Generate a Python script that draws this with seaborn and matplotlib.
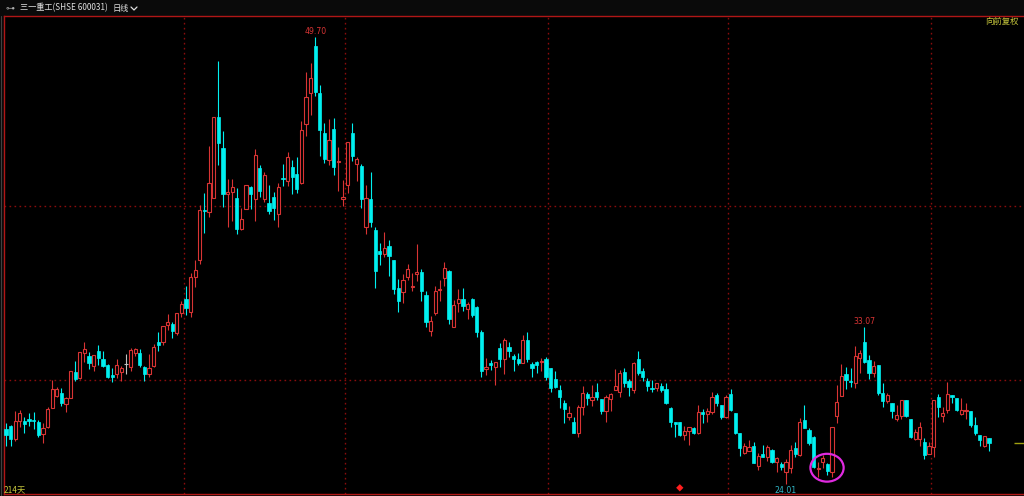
import numpy as np
import pandas as pd
import matplotlib
matplotlib.use("Agg")
import matplotlib.pyplot as plt
from matplotlib.patches import Ellipse
from matplotlib.lines import Line2D
import matplotlib.transforms as mtransforms
import seaborn as sns

# ---- daily OHLC, 214 sessions ----
opens = [
    27.19, 27.36, 26.61, 27.65, 27.65, 27.76, 27.65, 27.59, 26.90, 27.30,
    28.39, 29.08, 29.25, 28.62, 28.97, 30.46, 30.12, 31.55, 31.38, 30.80,
    31.67, 31.21, 30.86, 30.29, 30.35, 30.46, 30.92, 30.75, 31.55, 31.55,
    30.75, 30.35, 30.80, 32.19, 32.19, 33.16, 33.22, 32.70, 33.85, 34.66,
    33.91, 35.92, 36.90, 39.77, 39.66, 40.46, 45.12, 43.33, 40.69, 40.81,
    40.46, 38.68, 39.83, 41.09, 40.40, 42.19, 40.40, 40.17, 40.52, 39.54,
    41.61, 41.44, 42.24, 41.84, 41.32, 44.71, 46.50, 49.20, 46.50, 44.20,
    42.65, 44.43, 42.53, 40.40, 41.21, 44.20, 42.41, 42.30, 38.79, 40.40,
    38.62, 37.41, 37.24, 37.70, 36.90, 35.29, 35.06, 35.92, 35.35, 36.09,
    36.21, 34.89, 32.82, 33.85, 35.17, 35.86, 36.27, 33.05, 34.43, 34.66,
    34.08, 34.66, 34.20, 32.76, 30.66, 30.95, 30.75, 31.84, 31.21, 31.90,
    31.38, 31.21, 30.98, 32.30, 30.92, 31.04, 31.04, 31.21, 30.69, 30.06,
    29.43, 28.68, 27.88, 27.59, 26.96, 28.45, 29.19, 28.85, 29.31, 28.91,
    28.22, 28.91, 29.43, 29.31, 30.46, 29.94, 29.43, 31.21, 30.52, 29.94,
    29.54, 29.54, 29.66, 29.48, 28.39, 27.59, 27.59, 26.84, 27.07, 27.24,
    26.96, 28.16, 28.05, 28.16, 29.14, 28.57, 27.88, 29.19, 28.11, 26.96,
    25.81, 25.92, 26.21, 25.06, 25.75, 25.58, 25.98, 25.29, 25.17, 24.71,
    24.94, 26.09, 25.69, 27.70, 27.13, 26.72, 24.86, 25.29, 25.17, 24.71,
    27.93, 29.08, 30.35, 29.97, 29.83, 31.27, 32.19, 31.15, 30.40, 30.86,
    29.25, 28.80, 28.68, 27.76, 27.93, 28.85, 27.76, 26.61, 26.61, 26.44,
    25.75, 26.15, 29.02, 27.93, 28.28, 29.14, 28.97, 28.05, 28.22, 28.22,
    27.41, 26.84, 26.21, 26.67,
]
highs = [
    27.53, 27.40, 28.22, 28.28, 27.88, 28.11, 28.16, 27.70, 27.53, 28.45,
    30.00, 29.60, 29.54, 29.02, 30.54, 31.09, 31.63, 32.19, 31.61, 31.46,
    32.01, 31.67, 30.92, 30.69, 31.21, 30.80, 31.50, 31.84, 31.84, 31.78,
    30.80, 31.50, 32.07, 32.76, 33.12, 33.79, 33.33, 33.87, 34.54, 35.40,
    36.15, 36.90, 40.06, 40.75, 43.45, 45.14, 48.33, 44.31, 41.55, 41.55,
    41.04, 39.89, 41.23, 41.15, 43.28, 42.36, 41.96, 41.21, 40.81, 41.32,
    42.41, 43.10, 42.65, 42.82, 44.89, 47.70, 48.22, 49.70, 46.95, 44.77,
    45.00, 45.06, 43.39, 41.50, 43.70, 44.77, 42.82, 42.41, 41.21, 41.96,
    38.79, 37.87, 38.51, 38.05, 36.92, 35.81, 36.09, 36.67, 36.15, 37.82,
    36.38, 35.12, 33.68, 35.40, 35.75, 36.78, 36.30, 34.60, 35.23, 35.29,
    34.48, 34.71, 34.25, 32.88, 31.27, 31.15, 31.06, 32.13, 32.42, 32.19,
    31.50, 31.55, 32.59, 32.76, 31.04, 31.09, 31.27, 31.32, 30.71, 30.52,
    29.71, 28.85, 28.51, 27.88, 28.57, 29.66, 29.31, 29.71, 29.83, 28.93,
    29.14, 29.25, 30.63, 30.58, 30.69, 30.06, 31.04, 31.67, 30.69, 30.12,
    30.00, 29.85, 29.83, 29.83, 28.45, 27.61, 27.61, 27.36, 27.32, 27.30,
    28.57, 28.34, 28.39, 29.31, 29.25, 28.59, 29.14, 29.48, 28.13, 26.98,
    26.38, 26.55, 26.44, 25.81, 26.27, 26.27, 26.04, 25.58, 25.29, 25.46,
    26.27, 26.44, 27.82, 28.57, 27.24, 26.78, 25.29, 25.69, 25.23, 27.32,
    29.71, 30.92, 30.75, 30.69, 31.96, 31.73, 33.07, 31.44, 31.09, 30.88,
    29.83, 29.25, 28.70, 28.57, 28.87, 28.87, 27.78, 27.19, 27.59, 26.67,
    26.44, 28.87, 29.19, 28.45, 29.89, 29.16, 28.99, 28.97, 28.68, 28.24,
    27.88, 26.86, 26.80, 26.69,
]
lows = [
    26.21, 26.21, 26.50, 27.30, 26.96, 27.36, 27.19, 26.72, 26.38, 27.27,
    28.37, 29.02, 28.51, 28.16, 28.95, 29.94, 30.06, 31.04, 30.63, 30.52,
    30.86, 30.75, 30.12, 29.89, 30.12, 29.94, 30.35, 30.52, 31.38, 30.75,
    29.94, 30.17, 30.75, 31.67, 32.01, 32.88, 32.42, 32.59, 33.62, 33.74,
    33.62, 35.35, 36.67, 38.45, 39.37, 40.44, 42.36, 39.94, 38.79, 39.14,
    38.39, 38.62, 39.80, 39.83, 39.14, 40.52, 40.23, 39.54, 39.20, 38.79,
    41.15, 41.15, 40.69, 40.75, 41.29, 44.02, 45.23, 46.32, 42.87, 42.47,
    42.36, 41.78, 40.86, 40.00, 40.75, 42.59, 41.44, 39.89, 38.39, 38.79,
    35.29, 36.61, 37.07, 35.98, 34.94, 33.91, 34.43, 35.75, 35.12, 35.69,
    34.54, 33.05, 32.53, 33.74, 34.54, 35.40, 33.22, 33.03, 33.91, 33.97,
    33.51, 33.62, 32.47, 30.17, 30.29, 30.58, 29.71, 30.75, 30.35, 31.32,
    30.52, 30.86, 30.96, 31.04, 30.17, 30.40, 30.52, 30.00, 29.31, 29.54,
    28.39, 27.53, 27.70, 26.93, 26.72, 27.99, 28.57, 28.51, 28.85, 28.05,
    27.59, 28.22, 29.41, 29.02, 29.60, 29.08, 29.25, 30.29, 29.94, 29.37,
    29.31, 29.37, 29.31, 28.62, 27.30, 26.72, 26.78, 26.55, 26.27, 26.90,
    26.90, 27.53, 27.59, 28.05, 28.51, 27.76, 27.82, 28.22, 26.90, 25.63,
    25.75, 25.90, 25.21, 24.83, 25.56, 25.35, 25.23, 24.71, 24.83, 24.01,
    24.66, 25.58, 25.63, 27.22, 26.27, 24.94, 24.43, 24.94, 24.54, 24.43,
    27.53, 29.06, 29.48, 29.60, 29.54, 30.40, 30.98, 30.06, 30.17, 29.14,
    28.45, 28.68, 27.82, 27.65, 27.76, 27.88, 26.67, 26.55, 26.21, 25.46,
    25.73, 25.58, 27.88, 27.59, 28.11, 28.68, 28.22, 27.99, 27.76, 27.30,
    26.84, 26.21, 26.15, 25.92,
]
closes = [
    26.84, 26.61, 27.65, 28.11, 27.47, 27.65, 27.62, 26.84, 27.24, 28.34,
    29.48, 29.48, 28.68, 28.97, 30.52, 30.06, 31.61, 31.78, 30.98, 31.44,
    31.27, 30.80, 30.17, 30.17, 30.86, 30.69, 30.92, 31.73, 31.78, 30.86,
    30.35, 30.69, 31.90, 32.01, 33.10, 33.33, 32.82, 33.85, 34.37, 34.14,
    35.92, 36.32, 39.77, 39.71, 41.32, 45.12, 43.62, 40.69, 40.81, 41.09,
    38.68, 39.25, 41.21, 40.69, 42.93, 40.86, 41.78, 39.71, 39.89, 41.09,
    41.55, 42.82, 41.67, 40.98, 44.37, 46.27, 47.36, 46.55, 44.37, 42.70,
    43.79, 42.24, 42.59, 40.52, 43.68, 42.87, 42.70, 40.40, 40.46, 39.08,
    36.27, 37.24, 37.59, 37.13, 35.23, 34.54, 35.75, 36.38, 35.40, 36.21,
    35.12, 33.33, 33.39, 35.12, 35.23, 36.44, 33.51, 34.31, 34.66, 34.25,
    34.37, 33.74, 32.76, 30.52, 30.72, 30.89, 31.04, 31.21, 32.30, 31.67,
    31.21, 30.98, 32.30, 31.21, 30.69, 30.86, 31.09, 30.17, 29.54, 29.60,
    29.02, 28.34, 28.11, 26.96, 28.45, 29.25, 28.97, 29.02, 29.02, 28.22,
    29.02, 29.19, 29.66, 30.40, 29.83, 29.60, 30.98, 30.40, 30.17, 29.66,
    29.48, 29.83, 29.43, 28.68, 27.59, 27.47, 26.84, 27.07, 27.30, 26.96,
    28.16, 28.05, 28.22, 29.02, 28.68, 27.88, 29.02, 28.28, 26.96, 26.09,
    26.21, 26.15, 25.23, 25.63, 25.58, 26.15, 25.29, 25.52, 25.00, 25.29,
    25.98, 25.75, 27.59, 27.24, 26.38, 25.00, 24.92, 25.52, 24.77, 27.30,
    28.74, 30.23, 30.00, 29.91, 31.38, 31.55, 31.04, 30.40, 30.80, 29.25,
    28.80, 29.14, 28.22, 27.99, 28.85, 27.93, 26.72, 27.01, 27.30, 25.69,
    26.21, 28.85, 28.45, 28.11, 29.19, 29.02, 28.28, 28.28, 28.28, 27.41,
    26.96, 26.55, 26.78, 26.38,
]

grid_prices = [30, 40]
period_breaks = [38.5, 73.5, 117.5, 156.5, 200.5]   # session index between dashed columns
event_idx = 146          # red diamond marker
circled = [176, 177, 178, 179]

title = "三一重工(SHSE 600031)"
period = "日线"
adjust = "向前复权"
n_days = f"{len(closes)}天"

RED = "#d83434"
CYAN = "#00f0f0"
GRID = "#8a0c0c"
YELLOW = "#c8c83c"

df = pd.DataFrame({"open": opens, "high": highs, "low": lows, "close": closes})
df["i"] = np.arange(len(df))
up = df[df.close > df.open]
down = df[df.close < df.open]
flat = df[df.close == df.open]

sns.set_theme(style="dark", rc={"axes.facecolor": "black", "figure.facecolor": "#0a0a0a"})
plt.rcParams["font.family"] = ["Noto Sans CJK SC", "DejaVu Sans"]

W, H = 1024, 496
fig = plt.figure(figsize=(W / 100, H / 100), dpi=100)
ax = fig.add_axes([4 / W, 2 / H, 1020 / W, 478 / H])
ax.set_facecolor("black")
ax.set_xlim(-0.43, 220.58)
ax.set_ylim(23.45, 50.92)
ax.set_xticks([])
ax.set_yticks([])
ax.grid(False)
for side in ["top", "left", "bottom"]:
    ax.spines[side].set_color("#b01616")
    ax.spines[side].set_linewidth(1.0)
ax.spines["right"].set_visible(False)

# dashed grid
for p in grid_prices:
    ax.axhline(p, color=GRID, lw=1.0, ls=(0, (1.2, 2.4)), zorder=0)
for b in period_breaks:
    ax.axvline(b, color=GRID, lw=1.0, ls=(0, (1.2, 2.4)), zorder=0)

# wicks
wick_col = np.where(df.close > df.open, RED, np.where(df.close < df.open, CYAN, "#c0c0c0"))
ax.vlines(df.i, df.low, df.high, colors=wick_col, lw=0.8, zorder=2)

# bodies
w = 0.7
min_h = 0.06
ax.bar(up.i, np.maximum(up.close - up.open, min_h), bottom=up.open, width=w,
       color="black", edgecolor=RED, linewidth=0.8, zorder=3)
ax.bar(down.i, np.maximum(down.open - down.close, min_h), bottom=down.close, width=w,
       color=CYAN, edgecolor=CYAN, linewidth=0.5, zorder=3)
ax.hlines(flat.close, flat.i - w / 2, flat.i + w / 2, colors="#c0c0c0", lw=0.8, zorder=3)

# high / low labels
hi = int(df.high.idxmax())
lo = int(df.low.idxmin())
hi2 = int(df.high.iloc[150:].idxmax())
ax.annotate(f"{highs[hi]:.2f}", xy=(hi, highs[hi]), xytext=(0, 6), textcoords="offset pixels",
            ha="center", va="center", color=RED, fontsize=5.6, family="DejaVu Sans")
ax.annotate(f"{highs[hi2]:.2f}", xy=(hi2, highs[hi2]), xytext=(0, 5), textcoords="offset pixels",
            ha="center", va="center", color=RED, fontsize=5.6, family="DejaVu Sans")
ax.annotate(f"{lows[lo]:.2f}", xy=(lo, lows[lo]), xytext=(0, -6), textcoords="offset pixels",
            ha="center", va="center", color="#30b8c8", fontsize=5.6, family="DejaVu Sans")

# circled sessions
c_lo = min(lows[i] for i in circled[:3])
c_hi = max(highs[i] for i in circled[:3])
ax.add_patch(Ellipse(((circled[0] + circled[-1]) / 2 + 0.4, (c_lo + c_hi) / 2 - 0.1),
                     width=7.2, height=1.6, fill=False, edgecolor="#e02ae0", lw=1.6, zorder=5))

# event marker at the bottom
trans = mtransforms.blended_transform_factory(ax.transData, ax.transAxes)
sns.scatterplot(x=[event_idx], y=[0.013], marker="D", s=14, color="#ff1e1e",
                edgecolor="none", transform=trans, ax=ax, zorder=6, clip_on=False)

# last price tick on the right edge
ax.hlines(closes[-1], 218.4, 220.58, colors="#a0a010", lw=1.0, zorder=4)

# header and corner texts
fig.text(5 / W, 1 - 8 / H, "⊶", color="#b0b0b0", fontsize=6.5, va="center", family="DejaVu Sans")
t = fig.text(20 / W, 1 - 8 / H, title, color="#e0e0e0", fontsize=5.9, va="center")
renderer = fig.canvas.get_renderer()
x_end = t.get_window_extent(renderer).x1
p = fig.text((x_end + 5) / W, 1 - 8 / H, period, color="#e0e0e0", fontsize=5.9, va="center")
x2 = p.get_window_extent(renderer).x1
fig.add_artist(Line2D([(x2 + 2) / W, (x2 + 5) / W, (x2 + 8) / W], [1 - 7 / H, 1 - 10 / H, 1 - 7 / H],
                      color="#e0e0e0", lw=0.9))
fig.text(1019 / W, 1 - 21 / H, adjust, color=YELLOW, fontsize=6.0, va="center", ha="right")
fig.text(4 / W, 1 - 490 / H, n_days, color=YELLOW, fontsize=6.0, va="center", ha="left")
fig.add_artist(Line2D([1 / W, 1 / W], [0, 1 - 16 / H], color="#404040", lw=0.8))

fig.savefig("out.png", dpi=100, facecolor=fig.get_facecolor())
